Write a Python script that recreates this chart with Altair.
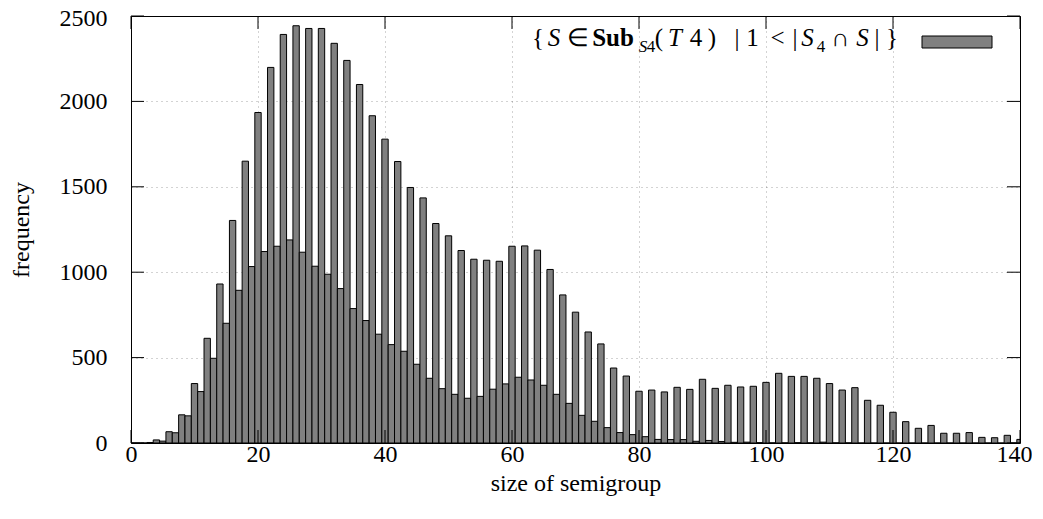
import altair as alt
import pandas as pd

# ---------------- data ----------------
sizes = list(range(0, 141))
freq = [
    0, 0, 0, 3, 18, 11, 66, 60, 165, 159,            # 0-9
    348, 301, 613, 496, 931, 701, 1303, 894, 1650, 1033,   # 10-19
    1935, 1121, 2199, 1152, 2392, 1189, 2443, 1117, 2427, 1035,  # 20-29
    2427, 988, 2340, 904, 2240, 787, 2099, 717, 1916, 637,  # 30-39
    1779, 576, 1648, 537, 1496, 461, 1435, 379, 1285, 318,  # 40-49
    1213, 285, 1127, 262, 1076, 273, 1070, 315, 1064, 346,  # 50-59
    1152, 385, 1154, 369, 1129, 338, 1016, 285, 867, 232,   # 60-69
    766, 162, 650, 127, 580, 90, 439, 61, 392, 49,          # 70-79
    303, 37, 310, 21, 299, 20, 326, 20, 314, 10,            # 80-89
    373, 15, 320, 9, 338, 4, 328, 5, 332, 2,                # 90-99
    355, 1, 408, 1, 390, 2, 390, 1, 379, 5,                 # 100-109
    348, 1, 310, 1, 324, 0, 250, 0, 221, 0,                 # 110-119
    180, 0, 125, 0, 86, 0, 103, 0, 57, 0,                   # 120-129
    57, 0, 61, 0, 33, 0, 31, 0, 45, 0,                      # 130-139
    21,                                                     # 140
]
x_ticks = [0, 20, 40, 60, 80, 100, 120, 140]
y_ticks = [0, 500, 1000, 1500, 2000, 2500]
x_title = "size of semigroup"
y_title = "frequency"

# legend label pieces: text, style
legend_text = ["{", "S", "∈", "Sub", "S", "4", "(", "T", "4", ")", "|", "1", "<", "|", "S", "4", "∩", "S", "|", "}"]
legend_style = ["n", "i", "n", "b", "si", "s", "n", "i", "n", "n", "n", "n", "n", "n", "i", "s", "n", "i", "n", "n"]
legend_cx = [538, 554, 578, 613, 643, 651, 659, 675, 696, 712, 737, 752.5, 777.5, 795, 807.5, 821, 840, 862.5, 877, 892]

# ---------------- layout ----------------
W, H = 889, 427
LEFT, TOP = 131, 16
FONT = "Liberation Serif"
FS = 24
LFS = 25
SUBFS = 17
TICK = 13

df = pd.DataFrame({"size": sizes, "freq": freq})
xs = alt.Scale(domain=[0, 140], nice=False, zero=False)
ys = alt.Scale(domain=[0, 2500], nice=False)

x_axis = alt.Axis(values=x_ticks, format="d", labelPadding=18,
                  labelBaseline="alphabetic", labelFlush=False,
                  labelOffset={"condition": {"test": "datum.value >= 140", "value": -6}, "value": 0},
                  titleY=47, titleBaseline="alphabetic")
y_axis = alt.Axis(values=y_ticks, format="d", labelPadding=24,
                  labelOffset={"condition": {"test": "datum.value >= 2500", "value": 2}, "value": 0},
                  titleX=-110, titleY=H / 2, titleAngle=270,
                  titleBaseline="middle", titleAlign="center")

bars = (
    alt.Chart(df)
    .transform_calculate(lo="datum.size - 0.5", hi="datum.size + 0.5")
    .mark_rect(fill="#808080", stroke="black", strokeWidth=1, clip=True)
    .encode(
        x=alt.X("lo:Q", scale=xs, axis=x_axis, title=x_title),
        x2="hi:Q",
        y=alt.Y("freq:Q", scale=ys, axis=y_axis, title=y_title),
        y2=alt.datum(0),
    )
)

xt = pd.DataFrame({"v": x_ticks})
yt = pd.DataFrame({"v": y_ticks})
tick_style = dict(color="black", strokeWidth=1)
bottom_ticks = alt.Chart(xt).mark_rule(**tick_style).encode(
    x=alt.X("v:Q", scale=xs, axis=x_axis, title=x_title), y=alt.value(H), y2=alt.value(H - TICK))
top_ticks = alt.Chart(xt).mark_rule(**tick_style).encode(
    x=alt.X("v:Q", scale=xs, axis=x_axis, title=x_title), y=alt.value(0), y2=alt.value(TICK))
left_ticks = alt.Chart(yt).mark_rule(**tick_style).encode(
    y=alt.Y("v:Q", scale=ys, axis=y_axis, title=y_title), x=alt.value(0), x2=alt.value(TICK))
right_ticks = alt.Chart(yt).mark_rule(**tick_style).encode(
    y=alt.Y("v:Q", scale=ys, axis=y_axis, title=y_title), x=alt.value(W - TICK), x2=alt.value(W))

one = pd.DataFrame({"k": [0]})
legend_box = alt.Chart(one).mark_rect(fill="#808080", stroke="black", strokeWidth=1).encode(
    x=alt.value(922 - LEFT), x2=alt.value(992 - LEFT),
    y=alt.value(36 - TOP), y2=alt.value(48 - TOP))

text_layers = []
for t, st, cx in zip(legend_text, legend_style, legend_cx):
    props = dict(font=FONT, fontSize=LFS, align="center", baseline="alphabetic", color="black")
    by = 46
    if st == "i":
        props["fontStyle"] = "italic"
    elif st == "b":
        props["fontWeight"] = "bold"
    elif st == "si":
        props["fontStyle"] = "italic"
        props["fontSize"] = SUBFS
        by = 52
    elif st == "s":
        props["fontSize"] = SUBFS
        by = 52
    text_layers.append(
        alt.Chart(one).mark_text(text=t, **props).encode(
            x=alt.value(cx - LEFT), y=alt.value(by - TOP))
    )

chart = (
    alt.layer(bars, bottom_ticks, top_ticks, left_ticks, right_ticks, legend_box, *text_layers)
    .properties(width=W, height=H, background="white",
                autosize=alt.AutoSizeParams(type="none"),
                padding={"left": LEFT - 8, "top": TOP - 8, "right": 12, "bottom": 56})
    .configure_view(stroke="black", strokeWidth=1)
    .configure_axis(
        labelFont=FONT, labelFontSize=FS, labelColor="black",
        titleFont=FONT, titleFontSize=FS, titleFontWeight="normal", titleColor="black",
        grid=True, gridColor="black", gridOpacity=0.35, gridDash=[1, 4], gridWidth=1,
        ticks=False, tickSize=0, domain=False, zindex=1,
    )
)

chart.save("out.html", embed_options={"renderer": "svg", "actions": False})
